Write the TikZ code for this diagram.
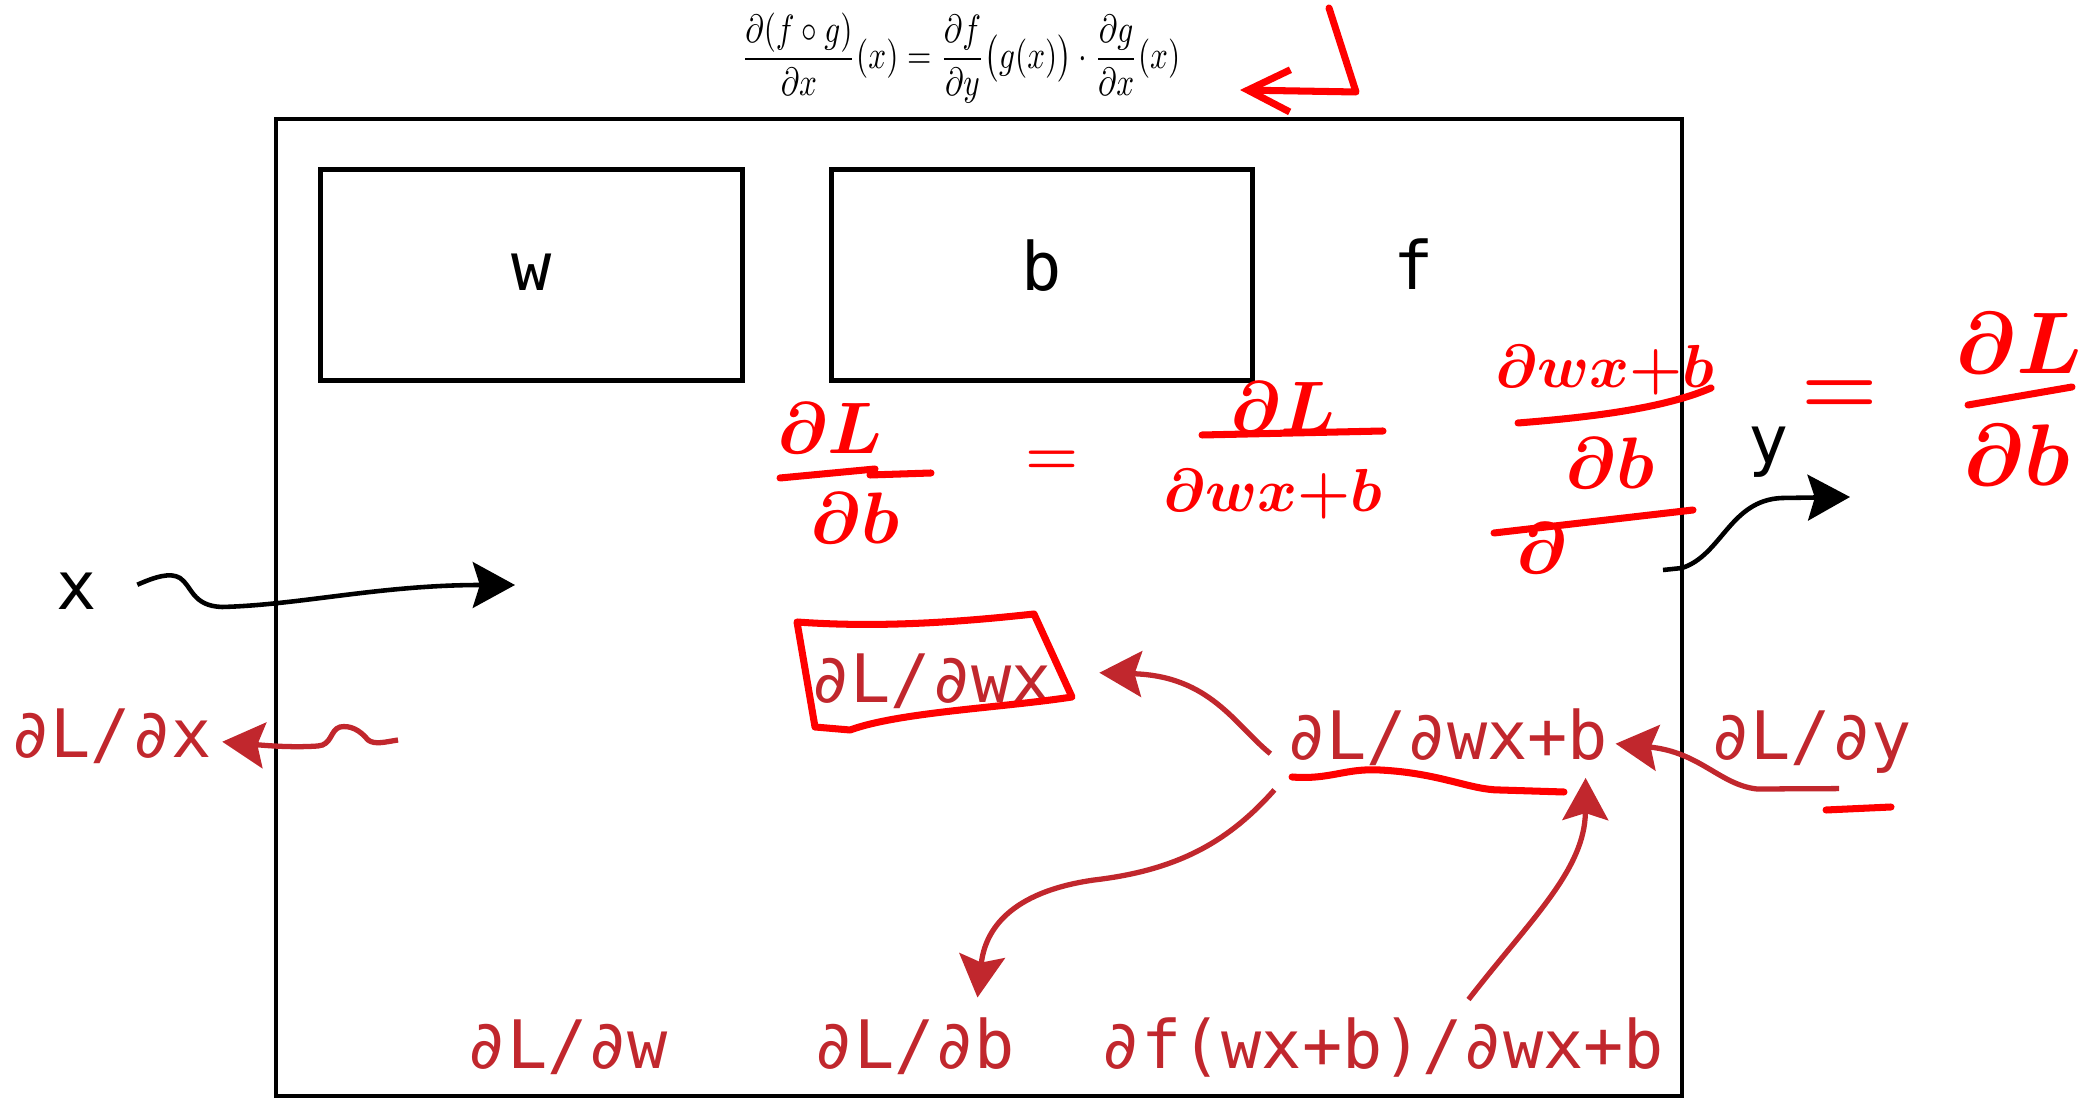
\documentclass[tikz,border=0pt]{standalone}
\usepackage{amsmath, amssymb}
\usepackage{fontspec}
\usetikzlibrary{arrows.meta, positioning, calc}
\newfontfamily\codefont{DejaVu Sans Mono}
\definecolor{gradred}{HTML}{C1272D}
\definecolor{penred}{HTML}{FF0000}

\begin{document}
\begin{tikzpicture}[x=0.01cm, y=-0.01cm,
    param/.style={draw, line width=1.4pt, minimum width=4.21cm, minimum height=2.11cm,
        text height=0.3cm, text depth=0pt, font=\codefont\fontsize{19}{23}\selectfont},
    lbl/.style={anchor=base, inner sep=0pt, font=\codefont\fontsize{19}{23}\selectfont},
    grad/.style={lbl, text=gradred},
    hand/.style={text=penred, inner sep=0pt, font=\fontsize{20}{24}\selectfont\boldmath},
    flow/.style={line width=1.3pt, -{Stealth[length=12pt, width=13pt, inset=2pt]}},
    back/.style={flow, gradred, line width=1.5pt},
    pen/.style={penred, line width=2pt, line cap=round, line join=round}]
    \useasboundingbox (0,0) rectangle (2100,1098);

    % Chain rule
    \node (chain) at (961,58) {\scalebox{0.89}[1.12]{$\dfrac{\partial(f\circ g)}{\partial x}(x)=\dfrac{\partial f}{\partial y}\big(g(x)\big)\cdot\dfrac{\partial g}{\partial x}(x)$}};

    % Model
    \draw[line width=1.15pt] (276,119) rectangle (1682,1096);
    \node[param] (w) at (531.5,275) {w};
    \node[param] (b) at (1042,275) {b};
    \node[lbl] (f) at (1414,290) {f};

    % Forward pass
    \node[lbl] (x) at (76.5,610) {x};
    \node[lbl] (y) at (1769,464) {y};
    \coordinate (xin) at (515,585);
    \coordinate (fout) at (1663,570);
    \coordinate (yout) at (1850,497);
    \draw[flow] ($(x.east)+(40,-7)$) .. controls (155,577) and (170,572) .. (180,578)
        .. controls (192,586) and (192,606) .. (222,607)
        .. controls (300,605) and (380,585) .. (xin);
    \draw[flow] (fout) -- (1682,568) .. controls (1722,555) and (1730,500) .. (1782,498) -- (yout);

    % Gradients
    \node[grad] (dLdx) at (111,758) {∂L/∂x};
    \node[grad] (dLdwx) at (931,703) {∂L/∂wx};
    \node[grad] (dLdwxb) at (1447,760) {∂L/∂wx+b};
    \node[grad] (dLdy) at (1811,760) {∂L/∂y};
    \node[grad] (dLdw) at (567.5,1068) {∂L/∂w};
    \node[grad] (dLdb) at (914.5,1068) {∂L/∂b};
    \node[grad] (dfwxb) at (1382.5,1068) {∂f(wx+b)/∂wx+b};
    \coordinate (dxtail) at (398,740);

    \draw[back] (dxtail) .. controls (385,742) and (375,745) .. (368,740)
        .. controls (360,730) and (350,725) .. (340,727)
        .. controls (330,730) and (332,745) .. (318,746)
        .. controls (290,748) and (260,745) .. ($(dLdx.east)+(10,5)$);
    \draw[back] ($(dLdy.south)+(28,14)$) -- (1757,789)
        .. controls (1720,785) and (1700,752) .. ($(dLdwxb.east)+(7,6)$);
    \draw[back] ($(dLdwxb.west)+(-15,16)$) .. controls (1235,725) and (1210,676) .. ($(dLdwx.east)+(47,-9)$);
    \draw[back] ($(dLdwxb.south west)+(-11,23)$) .. controls (1230,840) and (1180,870) .. (1094,880)
        .. controls (1010,892) and (985,930) .. ($(dLdb.north)+(63,-19)$);
    \draw[back] ($(dfwxb.north)+(86,-17)$) .. controls (1530,920) and (1585,870) .. ($(dLdwxb.south east)+(-23,11)$);

    % Pen notes
    \draw[pen, -{Straight Barb[length=12pt, width=12pt]}] (1329,8) -- (1356,92) -- (1240,90);
    \draw[pen] (797,622) .. controls (880,628) and (960,622) .. (1034,614) -- (1072,697)
        .. controls (1000,708) and (900,712) .. (850,730) -- (815,727) -- cycle;
    \draw[pen] (1292,777) .. controls (1330,780) and (1345,768) .. (1380,770)
        .. controls (1440,773) and (1470,790) .. (1500,790) -- (1564,792);
    \draw[pen] (1826,810) -- (1891,807);

    \node[hand] (lhsTop) at (830,428) {$\partial L$};
    \node[hand] (lhsBot) at (855,518) {$\partial b$};
    \draw[pen] (780,478) -- (875,469) (870,475) -- (931,473);
    \node[hand, font=\fontsize{16}{20}\selectfont\boldmath] (eqA) at (1052,463) {$=$};
    \node[hand] (midTop) at (1283,407) {$\partial L$};
    \node[hand, font=\fontsize{18}{22}\selectfont\boldmath] (midBot) at (1273,494) {$\partial wx{+}b$};
    \draw[pen] (1202,435) -- (1383,431);
    \node[hand, font=\fontsize{18}{22}\selectfont\boldmath] (rhsTop) at (1605,370) {$\partial wx{+}b$};
    \node[hand] (rhsBot) at (1610,463) {$\partial b$};
    \draw[pen] (1518,423) .. controls (1580,418) and (1660,410) .. (1711,388);
    \node[hand] (strikeD) at (1542,548) {$\partial$};
    \draw[pen] (1494,533) -- (1693,510);
    \node[hand, font=\fontsize{26}{30}\selectfont\boldmath] (eqB) at (1840,398) {$=$};
    \node[hand, font=\fontsize{26}{30}\selectfont\boldmath] (resTop) at (2019,343) {$\partial L$};
    \node[hand, font=\fontsize{26}{30}\selectfont\boldmath] (resBot) at (2017,455) {$\partial b$};
    \draw[pen] (1968,405) -- (2072,387);
\end{tikzpicture}
\end{document}
